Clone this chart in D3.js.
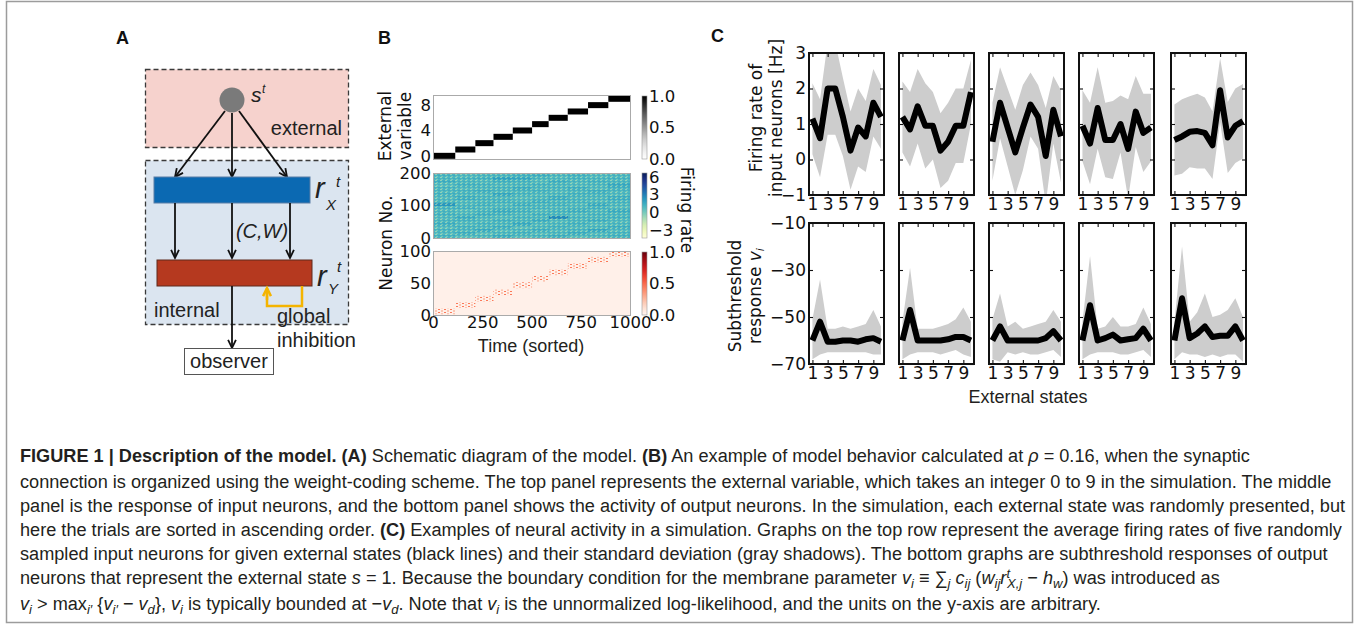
<!DOCTYPE html>
<html>
<head>
<meta charset="utf-8">
<script src="https://cdn.jsdelivr.net/npm/d3@7"></script>
<style>
  body { margin: 0; background: #fff; }
  svg { display: block; }
</style>
</head>
<body>
<div id="figure"></div>
<script>
// ---------- values ----------

// panel B
const stateCounts = [113, 102, 92, 98, 98, 84, 97, 103, 103, 110];   // trials per external state (sorted)
const timeTicks = [0, 250, 500, 750, 1000];
const extTicks = [0, 4, 8];
const inNeuronTicks = [0, 100, 200];
const outNeuronTicks = [0, 50, 100];
const greyBarTicks = [0, 0.5, 1];
const rateBarTicks = [-3, 0, 3, 6];
const redBarTicks = [0, 0.5, 1];
// mean input firing rate, 20 groups of 10 neurons (bottom -> top) x 10 external states
const inputRate = [
  [1.2, 0.8, 1.0, 1.4, 0.9, 1.1, 1.3, 0.8, 1.0, 1.2],
  [0.9, 1.3, 0.7, 1.0, 1.2, 0.8, 1.0, 1.4, 0.9, 1.1],
  [1.1, 1.0, 1.5, 0.8, 1.0, 1.3, 0.9, 1.1, 1.6, 0.9],
  [0.8, 1.2, 1.0, 1.3, 0.7, 1.0, 1.2, 0.9, 1.0, 1.3],
  [1.3, 0.9, 1.1, 1.0, 1.5, 0.9, 1.0, 1.2, 0.8, 1.0],
  [1.0, 1.1, 0.9, 1.2, 1.0, 1.4, 0.8, 1.0, 1.3, 0.9],
  [0.9, 1.4, 1.0, 0.8, 1.1, 1.0, 2.6, 1.1, 1.0, 1.2],
  [1.2, 1.0, 1.3, 1.1, 0.9, 1.2, 1.0, 0.8, 1.1, 1.0],
  [1.0, 0.8, 1.1, 1.4, 1.2, 0.9, 1.1, 1.3, 1.0, 1.4],
  [1.1, 1.2, 0.9, 1.0, 1.0, 1.1, 0.9, 1.0, 1.2, 0.8],
  [2.2, 1.0, 1.2, 0.9, 1.3, 1.0, 1.2, 0.9, 1.5, 1.0],
  [1.0, 0.9, 1.0, 1.2, 1.0, 1.3, 1.0, 1.1, 0.9, 1.1],
  [0.9, 1.3, 1.1, 1.0, 0.8, 1.0, 1.4, 1.0, 1.0, 1.3],
  [1.2, 1.0, 0.9, 1.6, 1.1, 0.9, 1.0, 1.2, 1.1, 0.9],
  [1.0, 1.1, 1.3, 1.0, 1.0, 1.2, 0.9, 1.0, 1.3, 1.0],
  [1.1, 0.9, 1.0, 1.1, 1.4, 1.0, 1.1, 1.3, 0.9, 1.2],
  [0.8, 1.2, 1.1, 0.9, 1.0, 1.1, 1.0, 0.9, 1.0, 1.5],
  [1.3, 1.0, 0.9, 1.2, 1.1, 0.8, 1.3, 1.0, 1.2, 1.0],
  [1.0, 1.1, 1.2, 1.8, 1.6, 1.0, 0.9, 1.1, 1.0, 1.1],
  [1.1, 0.9, 1.0, 1.0, 1.2, 1.3, 1.0, 1.2, 0.9, 1.0]
];
// lowest output neuron of the active group for each external state
const outBandLo = [1, 11, 21, 31, 42, 52, 62, 72, 82, 91];

// panel C
const states = [1, 2, 3, 4, 5, 6, 7, 8, 9, 10];
const stateTicks = [1, 3, 5, 7, 9];
const rateTicks = [-1, 0, 1, 2, 3];
const subTicks = [-70, -50, -30, -10];
const rateMean = [
  [1.15, 0.6, 2.0, 2.0, 1.2, 0.25, 0.9, 0.65, 1.6, 1.2],
  [1.2, 0.85, 1.5, 0.95, 0.95, 0.25, 0.5, 0.95, 0.95, 1.9],
  [0.5, 1.6, 0.9, 0.2, 0.9, 1.55, 1.2, 0.1, 1.4, 0.65],
  [0.95, 0.45, 1.45, 0.55, 0.55, 1.0, 0.3, 1.35, 0.75, 0.9],
  [0.55, 0.65, 0.78, 0.8, 0.75, 0.4, 1.95, 0.62, 0.95, 1.08]
];
const rateSd = [
  [1.0, 1.1, 1.3, 1.3, 1.1, 1.1, 1.1, 1.0, 0.95, 0.9],
  [1.0, 1.05, 1.05, 1.2, 0.95, 1.05, 1.1, 1.05, 1.05, 0.9],
  [1.1, 1.0, 1.1, 1.2, 1.2, 0.9, 0.9, 1.35, 0.95, 1.3],
  [1.0, 1.15, 1.15, 1.05, 1.1, 0.8, 1.4, 1.0, 1.1, 0.95],
  [1.0, 1.05, 1.0, 1.05, 1.0, 0.95, 0.9, 1.0, 1.05, 1.05]
];
const subMean = [
  [-60, -52, -60.5, -60.5, -60, -60, -60.5, -59.5, -59, -60.5],
  [-60, -47, -60, -60, -60, -60, -59.5, -58.5, -58.5, -60],
  [-60, -54, -60, -60, -60, -60, -60, -59, -56, -60],
  [-60, -45, -60, -59, -57.5, -60, -59.5, -59, -55, -60],
  [-60, -42, -59, -57, -54, -58.5, -58, -58, -54, -60]
];
const subHi = [
  [-51, -34, -55, -55, -54, -55, -54, -53, -47, -54],
  [-52, -29, -55, -55, -55, -54, -53, -51, -46, -52],
  [-51, -40, -54, -52, -55, -54, -53, -52, -47, -52],
  [-52, -24, -55, -54, -50, -54, -54, -53, -46, -53],
  [-52, -20, -52, -48, -40, -50, -49, -47, -42, -50]
];
const subLo = [
  [-68, -66, -65, -65, -65, -65, -65, -65, -66, -66],
  [-68, -66, -65, -65, -65, -66, -65, -64, -66, -67],
  [-68, -69, -65, -66, -65, -66, -66, -65, -64, -67],
  [-68, -66, -65, -65, -65, -66, -66, -65, -64, -67],
  [-68, -65, -66, -66, -67, -66, -67, -66, -66, -69]
];

// caption, one entry per printed line
const captionLines = [
  [["b", "FIGURE 1 | Description of the model. (A)"], ["n", " Schematic diagram of the model. "], ["b", "(B)"], ["n", " An example of model behavior calculated at "], ["i", "ρ"], ["n", " = 0.16, when the synaptic"]],
  [["n", "connection is organized using the weight-coding scheme. The top panel represents the external variable, which takes an integer 0 to 9 in the simulation. The middle"]],
  [["n", "panel is the response of input neurons, and the bottom panel shows the activity of output neurons. In the simulation, each external state was randomly presented, but"]],
  [["n", "here the trials are sorted in ascending order. "], ["b", "(C)"], ["n", " Examples of neural activity in a simulation. Graphs on the top row represent the average firing rates of five randomly"]],
  [["n", "sampled input neurons for given external states (black lines) and their standard deviation (gray shadows). The bottom graphs are subthreshold responses of output"]],
  [["n", "neurons that represent the external state "], ["i", "s"], ["n", " = 1. Because the boundary condition for the membrane parameter "], ["i", "v"], ["sub", "i"], ["n", " ≡ ∑"], ["sub", "j"], ["n", " "], ["i", "c"], ["sub", "ij"], ["n", " ("], ["i", "w"], ["sub", "ij"], ["i", "r"], ["subsup", "X,j|t"], ["n", " − "], ["i", "h"], ["sub", "w"], ["n", ") was introduced as"]],
  [["i", "v"], ["sub", "i"], ["n", " > max"], ["sub", "i′"], ["n", " {"], ["i", "v"], ["sub", "i′"], ["n", " − "], ["i", "v"], ["sub", "d"], ["n", "}, "], ["i", "v"], ["sub", "i"], ["n", " is typically bounded at −"], ["i", "v"], ["sub", "d"], ["n", ". Note that "], ["i", "v"], ["sub", "i"], ["n", " is the unnormalized log-likelihood, and the units on the y-axis are arbitrary."]]
];

// ---------- drawing ----------
const W = 1358, H = 625;
const MPL = "DejaVu Sans, sans-serif";
const SANS = "Liberation Sans, Arial, sans-serif";

let svg = d3.select("#figure")
    .append("svg")
    .attr("width", W)
    .attr("height", H);

let defs = svg.append("defs");

svg.append("rect")
    .attr("x", 6.5).attr("y", 1.5)
    .attr("width", 1346).attr("height", 621)
    .attr("fill", "none")
    .attr("stroke", "#9c9c9c")
    .attr("stroke-width", 1.5);

// panel letters
[["A", 116, 44], ["B", 378, 44], ["C", 711, 42]].forEach(function(d) {
    svg.append("text")
        .attr("x", d[1]).attr("y", d[2])
        .attr("font-family", SANS)
        .attr("font-weight", "bold")
        .attr("font-size", 18)
        .attr("fill", "#111")
        .text(d[0]);
});

// ---------- A: schematic ----------
let A = svg.append("g")
    .attr("font-family", SANS)
    .attr("fill", "#222");

function arrow(g, x1, y1, x2, y2, color, w) {
    g.append("line")
        .attr("x1", x1).attr("y1", y1).attr("x2", x2).attr("y2", y2)
        .attr("stroke", color).attr("stroke-width", w);
    let a = Math.atan2(y2 - y1, x2 - x1), L = 9, s = 0.45;
    let p1 = [x2 - L * Math.cos(a - s), y2 - L * Math.sin(a - s)];
    let p2 = [x2 - L * Math.cos(a + s), y2 - L * Math.sin(a + s)];
    g.append("path")
        .attr("d", `M${p1}L${x2},${y2}L${p2}`)
        .attr("fill", "none")
        .attr("stroke", color)
        .attr("stroke-width", w);
}

A.append("rect")
    .attr("x", 145.5).attr("y", 69.5).attr("width", 203).attr("height", 78)
    .attr("fill", "#f6d2cd").attr("stroke", "#3a3a3a")
    .attr("stroke-width", 1.3).attr("stroke-dasharray", "5,3");
A.append("rect")
    .attr("x", 145.5).attr("y", 160.5).attr("width", 203).attr("height", 164)
    .attr("fill", "#dbe5f0").attr("stroke", "#3a3a3a")
    .attr("stroke-width", 1.3).attr("stroke-dasharray", "5,3");

A.append("circle").attr("cx", 232).attr("cy", 100).attr("r", 12.5).attr("fill", "#7a7a7a");
A.append("text").attr("x", 251).attr("y", 102).attr("font-size", 21).attr("font-style", "italic").text("s");
A.append("text").attr("x", 262).attr("y", 93).attr("font-size", 12).attr("font-style", "italic").text("t");
A.append("text").attr("x", 342).attr("y", 135).attr("font-size", 20).attr("text-anchor", "end").text("external");

arrow(A, 225, 111, 175, 177, "#111", 1.8);
arrow(A, 232, 113, 232, 177, "#111", 1.8);
arrow(A, 239, 111, 287, 177, "#111", 1.8);

A.append("rect").attr("x", 154).attr("y", 177).attr("width", 156).attr("height", 26)
    .attr("fill", "#0b69b2").attr("stroke", "#5b7fa6").attr("stroke-width", 1);
A.append("text").attr("x", 315).attr("y", 198).attr("font-size", 29).attr("font-style", "italic").text("r");
A.append("text").attr("x", 326).attr("y", 210).attr("font-size", 15).attr("font-style", "italic").text("X");
A.append("text").attr("x", 336).attr("y", 187).attr("font-size", 15).attr("font-style", "italic").text("t");

arrow(A, 175, 203, 175, 258, "#111", 1.8);
arrow(A, 232, 203, 232, 258, "#111", 1.8);
arrow(A, 290, 203, 290, 258, "#111", 1.8);
A.append("text").attr("x", 262).attr("y", 238).attr("font-size", 20).attr("font-style", "italic")
    .attr("text-anchor", "middle").text("(C,W)");

A.append("rect").attr("x", 157).attr("y", 260).attr("width", 155).attr("height", 26)
    .attr("fill", "#b5391f").attr("stroke", "#5e2a1c").attr("stroke-width", 1);
A.append("text").attr("x", 317).attr("y", 286).attr("font-size", 29).attr("font-style", "italic").text("r");
A.append("text").attr("x", 328).attr("y", 294).attr("font-size", 15).attr("font-style", "italic").text("Y");
A.append("text").attr("x", 337).attr("y", 272).attr("font-size", 15).attr("font-style", "italic").text("t");

A.append("path").attr("d", "M302,286V306H267V292")
    .attr("fill", "none").attr("stroke", "#f4b400").attr("stroke-width", 2.5);
arrow(A, 267, 300, 267, 288, "#f4b400", 2.5);

A.append("text").attr("x", 154).attr("y", 317).attr("font-size", 20).text("internal");
A.append("text").attr("x", 277).attr("y", 323).attr("font-size", 20).text("global");
A.append("text").attr("x", 277).attr("y", 347).attr("font-size", 20).text("inhibition");

arrow(A, 232, 286, 232, 348, "#111", 1.8);
A.append("rect").attr("x", 184.5).attr("y", 348.5).attr("width", 89).attr("height", 26)
    .attr("fill", "#fff").attr("stroke", "#555").attr("stroke-width", 1);
A.append("text").attr("x", 229).attr("y", 368).attr("font-size", 20)
    .attr("text-anchor", "middle").text("observer");

// ---------- B: simulation example ----------
const stateEdges = [0];
stateCounts.forEach(function(c) { stateEdges.push(stateEdges[stateEdges.length - 1] + c); });

let xTime = d3.scaleLinear().domain([0, 1000]).range([433, 630]);
let yExt = d3.scaleLinear().domain([-0.5, 9.6]).range([159, 95]);
let yIn = d3.scaleLinear().domain([0, 200]).range([238, 173]);
let yOut = d3.scaleLinear().domain([0, 100]).range([315, 251]);
let rateColor = d3.scaleSequential(d3.interpolateYlGnBu).domain([-4.4, 6.7]);

function mplAxis(sel, fs) {
    sel.select(".domain").remove();
    sel.attr("font-family", MPL).attr("font-size", fs);
    sel.selectAll(".tick line").attr("stroke", "#111").attr("stroke-width", 1.1);
    sel.selectAll(".tick text").attr("fill", "#111");
}

let B = svg.append("g");

// top: external variable
B.selectAll("rect.step").data(stateCounts).enter()
    .append("rect")
    .attr("class", "step")
    .attr("x", (d, i) => xTime(stateEdges[i]))
    .attr("width", (d, i) => xTime(stateEdges[i + 1]) - xTime(stateEdges[i]))
    .attr("y", (d, i) => yExt(i) - 3)
    .attr("height", 6)
    .attr("fill", "#000");
B.append("g").attr("transform", "translate(433,0)")
    .call(d3.axisLeft(yExt).tickValues(extTicks).tickSize(0).tickPadding(2))
    .call(mplAxis, 16.5);

// middle: input neurons
let heat = B.append("g").attr("shape-rendering", "crispEdges");
inputRate.forEach(function(row, r) {
    heat.selectAll(null).data(row).enter()
        .append("rect")
        .attr("x", (d, k) => xTime(stateEdges[k]))
        .attr("width", (d, k) => xTime(stateEdges[k + 1]) - xTime(stateEdges[k]) + 0.5)
        .attr("y", yIn(r * 10 + 10))
        .attr("height", yIn(r * 10) - yIn(r * 10 + 10) + 0.5)
        .attr("fill", d => rateColor(d));
});
let grain = defs.append("pattern").attr("id", "grain")
    .attr("patternUnits", "userSpaceOnUse").attr("width", 5).attr("height", 3);
grain.append("rect").attr("x", 0).attr("y", 0).attr("width", 2).attr("height", 1).attr("fill", "#e8f4b0").attr("opacity", 0.45);
grain.append("rect").attr("x", 3).attr("y", 1).attr("width", 2).attr("height", 1).attr("fill", "#2a6fa8").attr("opacity", 0.18);
grain.append("rect").attr("x", 1).attr("y", 2).attr("width", 2).attr("height", 1).attr("fill", "#c8e8b0").attr("opacity", 0.35);
B.append("rect").attr("x", xTime(0)).attr("y", yIn(200))
    .attr("width", xTime(1000) - xTime(0)).attr("height", yIn(0) - yIn(200))
    .attr("fill", "url(#grain)");
B.append("g").attr("transform", "translate(433,0)")
    .call(d3.axisLeft(yIn).tickValues(inNeuronTicks).tickSize(0).tickPadding(2))
    .call(mplAxis, 16.5);

// bottom: output neurons
let spikes = defs.append("pattern").attr("id", "spikes")
    .attr("patternUnits", "userSpaceOnUse").attr("width", 6).attr("height", 3);
spikes.append("rect").attr("x", 0).attr("y", 0).attr("width", 2).attr("height", 1).attr("fill", d3.interpolateReds(0.45));
spikes.append("rect").attr("x", 3).attr("y", 1.5).attr("width", 2).attr("height", 1).attr("fill", d3.interpolateReds(0.35));
B.append("rect").attr("x", xTime(0)).attr("y", yOut(100))
    .attr("width", xTime(1000) - xTime(0)).attr("height", yOut(0) - yOut(100))
    .attr("fill", d3.interpolateReds(0.03));
B.selectAll("rect.band").data(outBandLo).enter()
    .append("rect")
    .attr("class", "band")
    .attr("x", (d, k) => xTime(stateEdges[k]))
    .attr("width", (d, k) => xTime(stateEdges[k + 1]) - xTime(stateEdges[k]))
    .attr("y", d => yOut(d + 9))
    .attr("height", d => yOut(d) - yOut(d + 9))
    .attr("fill", "url(#spikes)");
B.append("g").attr("transform", "translate(433,0)")
    .call(d3.axisLeft(yOut).tickValues(outNeuronTicks).tickSize(0).tickPadding(2))
    .call(mplAxis, 16.5);
B.append("g").attr("transform", "translate(0,315)")
    .call(d3.axisBottom(xTime).tickValues(timeTicks).tickSize(0).tickPadding(1).tickFormat(d3.format("d")))
    .call(mplAxis, 16.5);

// frames
[yExt, yIn, yOut].forEach(function(y) {
    B.append("rect")
        .attr("x", 433.5).attr("y", y.range()[1] + 0.5)
        .attr("width", 197).attr("height", y.range()[0] - y.range()[1])
        .attr("fill", "none").attr("stroke", "#aaa").attr("stroke-width", 1);
});

// colour bars
function colorBar(id, interp, y, ticks, fmt) {
    let grad = defs.append("linearGradient").attr("id", id)
        .attr("x1", 0).attr("y1", 1).attr("x2", 0).attr("y2", 0);
    d3.range(0, 1.01, 0.1).forEach(function(t) {
        grad.append("stop").attr("offset", t).attr("stop-color", interp(t));
    });
    B.append("rect")
        .attr("x", 642).attr("y", y.range()[1])
        .attr("width", 5).attr("height", y.range()[0] - y.range()[1])
        .attr("fill", `url(#${id})`).attr("stroke", "#999").attr("stroke-width", 0.6);
    B.append("g").attr("transform", "translate(647,0)")
        .call(d3.axisRight(y).tickValues(ticks).tickSize(0).tickPadding(2).tickFormat(fmt))
        .call(mplAxis, 16.5);
}
colorBar("cbGrey", t => d3.interpolateGreys(t), d3.scaleLinear().domain([0, 1]).range([159, 96]), greyBarTicks, d3.format(".1f"));
colorBar("cbRate", d3.interpolateYlGnBu, d3.scaleLinear().domain([-4.4, 6.7]).range([238, 173]), rateBarTicks, d3.format("d"));
colorBar("cbRed", d3.interpolateReds, d3.scaleLinear().domain([0, 1]).range([315, 252]), redBarTicks, d3.format(".1f"));

// axis titles
let extLabel = B.append("text")
    .attr("transform", "translate(391,126) rotate(-90)")
    .attr("text-anchor", "middle").attr("font-family", MPL).attr("font-size", 17).attr("fill", "#111");
extLabel.append("tspan").attr("x", 0).attr("dy", 0).text("External");
extLabel.append("tspan").attr("x", 0).attr("dy", "1.15em").text("variable");
B.append("text")
    .attr("transform", "translate(392,243) rotate(-90)")
    .attr("text-anchor", "middle").attr("font-family", MPL).attr("font-size", 17).attr("fill", "#111")
    .text("Neuron No.");
B.append("text")
    .attr("transform", "translate(681,210) rotate(90)")
    .attr("text-anchor", "middle").attr("font-family", MPL).attr("font-size", 17).attr("fill", "#111")
    .text("Firing rate");
B.append("text")
    .attr("x", 531).attr("y", 352)
    .attr("text-anchor", "middle").attr("font-family", SANS).attr("font-size", 18).attr("fill", "#231f20")
    .text("Time (sorted)");

// ---------- C: example neurons ----------
const colX = [809, 899, 989, 1079, 1171];
const plotW = 75;
let xState = d3.scaleLinear().domain([0.55, 10.4]).range([0, plotW]);
let yRate = d3.scaleLinear().domain([-1, 3]).range([195, 53]);
let ySub = d3.scaleLinear().domain([-70, -10]).range([364, 223]);

function smallPlot(col, yS, mean, lo, hi, yTicks, tag) {
    let top = yS.range()[1], bot = yS.range()[0];
    let g = svg.append("g").attr("transform", `translate(${colX[col]},0)`);
    let clipId = `clip-${tag}-${col}`;
    g.append("clipPath").attr("id", clipId)
        .append("rect").attr("x", 0).attr("y", top).attr("width", plotW).attr("height", bot - top);
    let body = g.append("g").attr("clip-path", `url(#${clipId})`);

    body.append("path").datum(states)
        .attr("d", d3.area()
            .x(s => xState(s))
            .y0((s, i) => yS(lo[i]))
            .y1((s, i) => yS(hi[i])))
        .attr("fill", "#cdcdcd");
    body.append("path").datum(states)
        .attr("d", d3.line()
            .x(s => xState(s))
            .y((s, i) => yS(mean[i])))
        .attr("fill", "none")
        .attr("stroke", "#000")
        .attr("stroke-width", 6)
        .attr("stroke-linejoin", "round");

    g.append("g").attr("transform", `translate(0,${bot})`)
        .call(d3.axisBottom(xState).tickValues(stateTicks).tickSize(-4).tickPadding(3))
        .call(mplAxis, 17);
    g.append("g").attr("transform", `translate(0,${top})`)
        .call(d3.axisTop(xState).tickValues(stateTicks).tickSize(-4).tickFormat(""))
        .call(mplAxis, 17);
    g.append("g")
        .call(d3.axisLeft(yS).tickValues(yTicks).tickSize(-4).tickPadding(3)
            .tickFormat(col === 0 ? d3.format("d") : ""))
        .call(mplAxis, 17);
    g.append("g").attr("transform", `translate(${plotW},0)`)
        .call(d3.axisRight(yS).tickValues(yTicks).tickSize(-4).tickFormat(""))
        .call(mplAxis, 17);

    g.append("rect")
        .attr("x", 0).attr("y", top)
        .attr("width", plotW).attr("height", bot - top)
        .attr("fill", "none").attr("stroke", "#111").attr("stroke-width", 2);
}

colX.forEach(function(x0, c) {
    let lo = rateMean[c].map((m, i) => m - rateSd[c][i]);
    let hi = rateMean[c].map((m, i) => m + rateSd[c][i]);
    smallPlot(c, yRate, rateMean[c], lo, hi, rateTicks, "rate");
    smallPlot(c, ySub, subMean[c], subLo[c], subHi[c], subTicks, "sub");
});

let rateLabel = svg.append("text")
    .attr("transform", "translate(762,118) rotate(-90)")
    .attr("text-anchor", "middle").attr("font-family", MPL).attr("font-size", 17).attr("fill", "#111");
rateLabel.append("tspan").attr("x", 0).attr("dy", 0).text("Firing rate of");
rateLabel.append("tspan").attr("x", 0).attr("dy", "1.15em").text("input neurons [Hz]");

let subLabel = svg.append("text")
    .attr("transform", "translate(741,296) rotate(-90)")
    .attr("text-anchor", "middle").attr("font-family", MPL).attr("font-size", 17).attr("fill", "#111");
subLabel.append("tspan").attr("x", 0).attr("dy", 0).text("Subthreshold");
let respLine = subLabel.append("tspan").attr("x", 0).attr("dy", "1.15em");
respLine.append("tspan").text("response ");
respLine.append("tspan").attr("font-style", "italic").text("v");
respLine.append("tspan").attr("font-style", "italic").attr("font-size", 11).attr("baseline-shift", "-3px").text("i");

svg.append("text")
    .attr("x", 1028).attr("y", 403)
    .attr("text-anchor", "middle").attr("font-family", SANS).attr("font-size", 18).attr("fill", "#231f20")
    .text("External states");

// ---------- caption ----------
const capBase = [462, 488, 512, 536, 560, 584, 610];
let cap = svg.append("g")
    .attr("font-family", SANS)
    .attr("fill", "#231f20");

let capTexts = captionLines.map(function(line, li) {
    let t = cap.append("text").attr("x", 20).attr("y", capBase[li]).attr("font-size", 16);
    line.forEach(function(seg) {
        let kind = seg[0], str = seg[1];
        if (kind === "b") {
            t.append("tspan").attr("font-weight", "bold").text(str);
        } else if (kind === "i") {
            t.append("tspan").attr("font-style", "italic").text(str);
        } else if (kind === "sub") {
            t.append("tspan").attr("font-style", "italic").attr("font-size", "0.72em")
                .attr("baseline-shift", "-4px").text(str);
        } else if (kind === "subsup") {
            let parts = str.split("|");
            t.append("tspan").attr("font-style", "italic").attr("font-size", "0.72em")
                .attr("baseline-shift", "6px").text(parts[1]);
            t.append("tspan").attr("font-style", "italic").attr("font-size", "0.72em")
                .attr("dx", -3).attr("baseline-shift", "-4px").text(parts[0]);
        } else {
            t.append("tspan").text(str);
        }
    });
    return t;
});

// size the caption font so the full second line spans the box, as in the print
let natural = capTexts[1].node().getComputedTextLength();
let capSize = 16 * 1312 / natural;
capTexts.forEach(t => t.attr("font-size", capSize));
</script>
</body>
</html>
